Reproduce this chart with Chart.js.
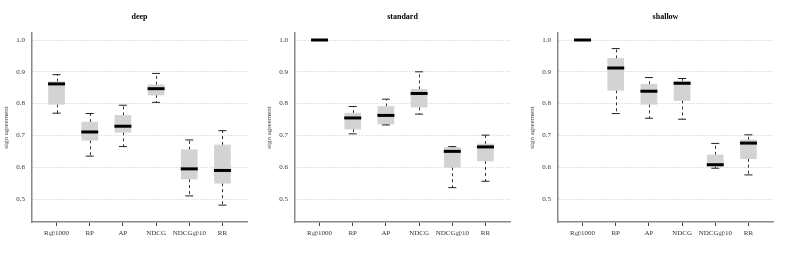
<!DOCTYPE html>
<html><head><meta charset="utf-8">
<script src="https://cdn.jsdelivr.net/npm/chart.js@4.4.1/dist/chart.umd.min.js"></script>
<style>
html,body{margin:0;padding:0;background:#fff;width:789px;height:263px;overflow:hidden;}
.p{position:absolute;top:0;width:263px;height:263px;}
</style></head><body>
<div class="p" style="left:0px"><canvas id="c0" width="263" height="263"></canvas></div>
<div class="p" style="left:263px"><canvas id="c1" width="263" height="263"></canvas></div>
<div class="p" style="left:526px"><canvas id="c2" width="263" height="263"></canvas></div>
<script>
const categories = ["R@1000","RP","AP","NDCG","NDCG@10","RR"];
const panelTitles = ["deep","standard","shallow"];
const yTicks = [0.5,0.6,0.7,0.8,0.9,1.0];

const deepLow  = [0.770,0.635,0.665,0.804,0.510,0.481];
const deepQ1   = [0.798,0.685,0.710,0.827,0.563,0.550];
const deepMed  = [0.862,0.711,0.729,0.847,0.595,0.590];
const deepQ3   = [0.869,0.742,0.763,0.859,0.655,0.670];
const deepHigh = [0.891,0.769,0.795,0.895,0.686,0.715];

const stdLow  = [1.0,0.705,0.733,0.767,0.536,0.556];
const stdQ1   = [1.0,0.720,0.736,0.789,0.600,0.620];
const stdMed  = [1.0,0.755,0.763,0.832,0.650,0.664];
const stdQ3   = [1.0,0.770,0.791,0.845,0.662,0.673];
const stdHigh = [1.0,0.791,0.814,0.900,0.665,0.701];

const shLow  = [1.0,0.769,0.754,0.751,0.597,0.576];
const shQ1   = [1.0,0.842,0.798,0.810,0.603,0.627];
const shMed  = [1.0,0.912,0.839,0.864,0.608,0.676];
const shQ3   = [1.0,0.942,0.861,0.871,0.639,0.686];
const shHigh = [1.0,0.973,0.882,0.879,0.675,0.702];

const panels = [
  {lo:deepLow,q1:deepQ1,med:deepMed,q3:deepQ3,hi:deepHigh},
  {lo:stdLow,q1:stdQ1,med:stdMed,q3:stdQ3,hi:stdHigh},
  {lo:shLow,q1:shQ1,med:shMed,q3:shQ3,hi:shHigh}
];

const FONT = "'Liberation Serif', serif";

const whiskerPlugin = {
  id:'whiskers',
  beforeDatasetsDraw(chart, args, opts){
    const p = opts.panel; if(!p) return;
    const xs = chart.scales.x, ys = chart.scales.y, ctx = chart.ctx;
    ctx.save();
    ctx.strokeStyle = '#333'; ctx.lineWidth = 1;
    ctx.setLineDash([3,3]);
    categories.forEach((c,i)=>{
      const x = Math.round(xs.getPixelForValue(i+1))+0.5;
      if(p.hi[i] > p.q3[i]){ ctx.beginPath(); ctx.moveTo(x, ys.getPixelForValue(p.q3[i])); ctx.lineTo(x, ys.getPixelForValue(p.hi[i])); ctx.stroke(); }
      if(p.lo[i] < p.q1[i]){ ctx.beginPath(); ctx.moveTo(x, ys.getPixelForValue(p.q1[i])); ctx.lineTo(x, ys.getPixelForValue(p.lo[i])); ctx.stroke(); }
    });
    ctx.restore();
  },
  afterDraw(chart, args, opts){
    const ctx = chart.ctx, a = chart.chartArea;
    ctx.save();
    ctx.fillStyle = '#000';
    ctx.font = "bold 8px " + FONT;
    ctx.textAlign = 'center'; ctx.textBaseline = 'middle';
    ctx.fillText(opts.title, (a.left + a.right)/2, 17);
    ctx.restore();
  }
};

panels.forEach((p, k) => {
  const pts = arr => arr.map((v,i)=>({x:i+1, y:v}));
  const capsHi = categories.map((c,i)=> p.hi[i] > p.q3[i] ? {x:i+1,y:p.hi[i]} : null).filter(Boolean);
  const capsLo = categories.map((c,i)=> p.lo[i] < p.q1[i] ? {x:i+1,y:p.lo[i]} : null).filter(Boolean);
  new Chart(document.getElementById('c'+k), {
    type:'bar',
    data:{
      datasets:[
        {type:'bar', data: categories.map((c,i)=>({x:i+1, y:[p.q1[i], p.q3[i]]})), backgroundColor:'#d3d3d3', borderWidth:0, barThickness:16, order:3},
        {type:'line', data: capsHi, showLine:false, pointStyle:'line', pointRadius:4, borderColor:'#222', borderWidth:1, order:2},
        {type:'line', data: capsLo, showLine:false, pointStyle:'line', pointRadius:4, borderColor:'#222', borderWidth:1, order:2},
        {type:'line', data: pts(p.med), showLine:false, pointStyle:'line', pointRadius:8.5, borderColor:'#000', borderWidth:3, order:1}
      ]
    },
    options:{
      responsive:false, animation:false, events:[],
      layout:{padding:{top:33,right:16,bottom:0,left:0}},
      plugins:{legend:{display:false}, tooltip:{enabled:false}, whiskers:{panel:p, title:panelTitles[k]}},
      scales:{
        x:{type:'linear', min:0.26, max:6.74, offset:false,
          afterBuildTicks: s => { s.ticks = categories.map((c,i)=>({value:i+1})); },
          afterFit: s => { s.height = 41; },
          ticks:{callback:(v)=>categories[Math.round(v)-1] || '', font:{family:FONT,size:7}, color:'#333', padding:3, maxRotation:0, autoSkip:false},
          grid:{drawOnChartArea:false, drawTicks:true, tickLength:4, color:'#444', offset:false},
          border:{display:true, color:'#888', width:1.5}
        },
        y:{type:'linear', min:0.428, max:1.022,
          afterBuildTicks: s => { s.ticks = yTicks.map(v=>({value:v})); },
          afterFit: s => { s.width = 32; },
          ticks:{callback:v=>v.toFixed(1), font:{family:FONT,size:7}, color:'#333', padding:7},
          grid:{drawOnChartArea:true, drawTicks:false, color:'#c8c8c8', lineWidth:1},
          border:{display:true, color:'#888', width:1.5, dash:[1,2]},
          title:{display:true, text:'sign agreement', font:{family:FONT,size:7}, color:'#444', padding:{top:2,bottom:0}}
        }
      }
    },
    plugins:[whiskerPlugin]
  });
});
</script>
</body></html>
